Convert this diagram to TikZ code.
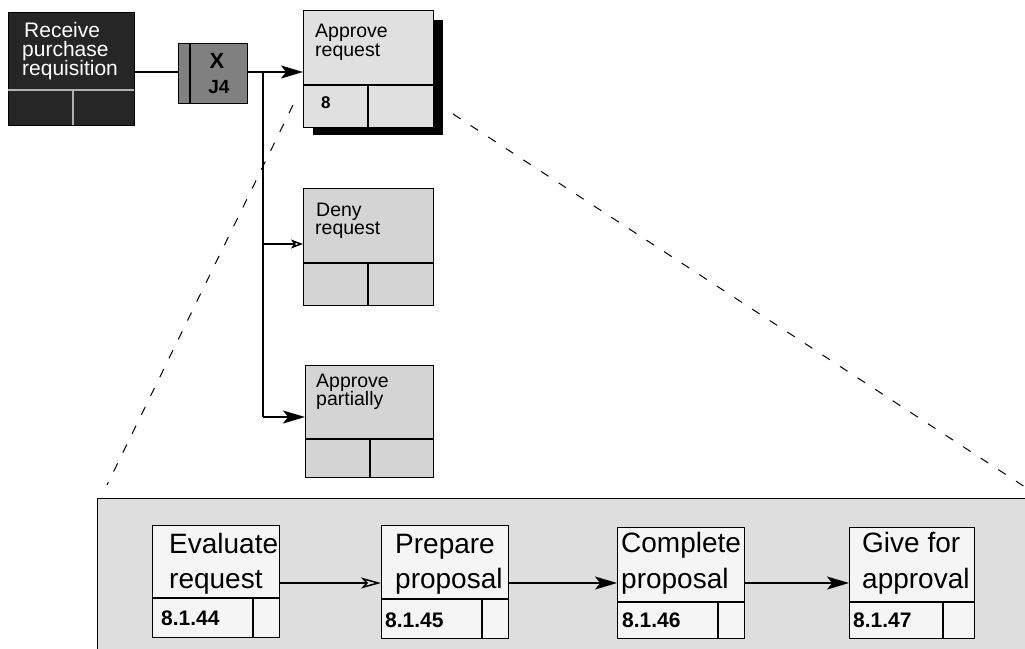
\documentclass[tikz,border=0pt]{standalone}
\usepackage{fontspec}
\setmainfont{Liberation Sans}
\usetikzlibrary{arrows.meta}
\begin{document}
\begin{tikzpicture}[x=1pt,y=-1pt,
  box/.style={draw=black, line width=1.4pt, rectangle, inner sep=0pt, anchor=north west},
  topbox/.style={box, fill=black!17},
  lowbox/.style={box, fill=black!4},
  sep/.style={line width=1.3pt},
  tl/.style={anchor=base west, inner sep=0pt, font=\fontsize{19.5}{20}\selectfont},
  wl/.style={anchor=base west, inner sep=0pt, text=white, font=\fontsize{21}{21}\selectfont},
  bl/.style={anchor=base west, inner sep=0pt, font=\fontsize{28}{30}\selectfont},
  code/.style={anchor=base west, inner sep=0pt, font=\fontsize{21}{21}\selectfont\bfseries},
  conn/.style={line width=1.5pt},
  fa/.style={conn, -{Stealth[length=22pt,width=13pt,inset=5pt]}},
  oa/.style={conn, -{Stealth[open,length=12pt,width=9pt,inset=3pt]}},
  ob/.style={conn, -{Stealth[open,length=20pt,width=11pt,inset=5pt]}},
  zoomline/.style={line width=1pt, dash pattern=on 9pt off 12pt}
]
\clip (0,0) rectangle (1025,648);
\fill[white] (0,0) rectangle (1025,648);

% ---------- top part ----------
\node[box, fill=black!85, minimum width=126pt, minimum height=113pt] (rc) at (8,12) {};
\draw[sep, white!70!black] (8,90) -- (134,90);
\draw[sep, white!70!black] (73,90) -- (73,125);
\node[wl] (rc1) at (24,37) {Receive};
\node[wl] (rc2) at (22,56) {purchase};
\node[wl] (rc3) at (22,75) {requisition};

\node[box, fill=black!50, minimum width=69pt, minimum height=60pt] (xor) at (178,43) {};
\draw[sep] (190,43) -- (190,103);
\node[inner sep=0pt, font=\fontsize{22}{22}\selectfont\bfseries] (xx) at (217,61) {X};
\node[inner sep=0pt, font=\fontsize{19}{19}\selectfont\bfseries] (xj) at (219,87) {J4};

% Approve request with shadow
\fill[black] (313,20) rectangle (443,135);
\node[topbox, fill=black!12, minimum width=130pt, minimum height=117pt] (ar) at (303,10) {};
\draw[sep] (303,85) -- (433,85);
\draw[sep] (368,85) -- (368,127);
\node[tl] (ar1) at (315,37) {Approve};
\node[tl] (ar2) at (315,56) {request};
\node[code, font=\fontsize{17}{17}\selectfont\bfseries] (ar3) at (321,108) {8};

\node[topbox, minimum width=130pt, minimum height=117pt] (dr) at (303,188) {};
\draw[sep] (303,263) -- (433,263);
\draw[sep] (368,263) -- (368,305);
\node[tl] (dr1) at (316,216) {Deny};
\node[tl] (dr2) at (315,234) {request};

\node[topbox, minimum width=128pt, minimum height=112pt] (ap) at (305,365) {};
\draw[sep] (305,439) -- (433,439);
\draw[sep] (370,439) -- (370,477);
\node[tl] (ap1) at (316,387) {Approve};
\node[tl] (ap2) at (316,405) {partially};

% connectors
\coordinate (br) at (263,72);
\coordinate (brd) at (263,244);
\coordinate (bra) at (263,417);
\draw[conn] (rc.east |- 0,72) -- (xor.west |- 0,72);
\draw[fa] (xor.east |- 0,72) -- (ar.west |- 0,72);
\draw[conn] (br) -- (bra);
\draw[oa] (brd) -- (dr.west |- brd);
\draw[fa] (bra) -- (ap.west |- bra);

% zoom lines
\coordinate (zl1) at (293,105);
\coordinate (zl2) at (107,485);
\coordinate (zr1) at (453,114);
\coordinate (zr2) at (1025,487);
\draw[zoomline] (zl1) -- (zl2);
\draw[zoomline] (zr1) -- (zr2);

% ---------- bottom detail ----------
\node[box, fill=black!13, minimum width=1000pt, minimum height=200pt] (big) at (97,498) {};

\node[lowbox, minimum width=127pt, minimum height=112pt] (ev) at (152,525) {};
\draw[sep] (152,598) -- (279,598);
\draw[sep] (253,598) -- (253,637);
\node[bl] (ev1) at (169,553) {Evaluate};
\node[bl] (ev2) at (169,588) {request};
\node[code] (ev3) at (161,625) {8.1.44};

\node[lowbox, minimum width=127pt, minimum height=113pt] (pp) at (381,525) {};
\draw[sep] (381,599) -- (508,599);
\draw[sep] (482,599) -- (482,638);
\node[bl] (pp1) at (395,553) {Prepare};
\node[bl] (pp2) at (395,588) {proposal};
\node[code] (pp3) at (385,627) {8.1.45};

\node[lowbox, minimum width=127pt, minimum height=111pt] (cp) at (617,527) {};
\draw[sep] (617,602) -- (744,602);
\draw[sep] (718,602) -- (718,638);
\node[bl] (cp1) at (621,552) {Complete};
\node[bl] (cp2) at (621,588) {proposal};
\node[code] (cp3) at (622,627) {8.1.46};

\node[lowbox, minimum width=125pt, minimum height=111pt] (ga) at (849,527) {};
\draw[sep] (849,602) -- (974,602);
\draw[sep] (943,602) -- (943,638);
\node[bl] (ga1) at (862,552) {Give for};
\node[bl] (ga2) at (862,588) {approval};
\node[code] (ga3) at (853,627) {8.1.47};

\draw[ob] (ev.east |- 0,583) -- (pp.west |- 0,583);
\draw[fa] (pp.east |- 0,583) -- (cp.west |- 0,583);
\draw[fa] (cp.east |- 0,583) -- (ga.west |- 0,583);
\end{tikzpicture}
\end{document}
